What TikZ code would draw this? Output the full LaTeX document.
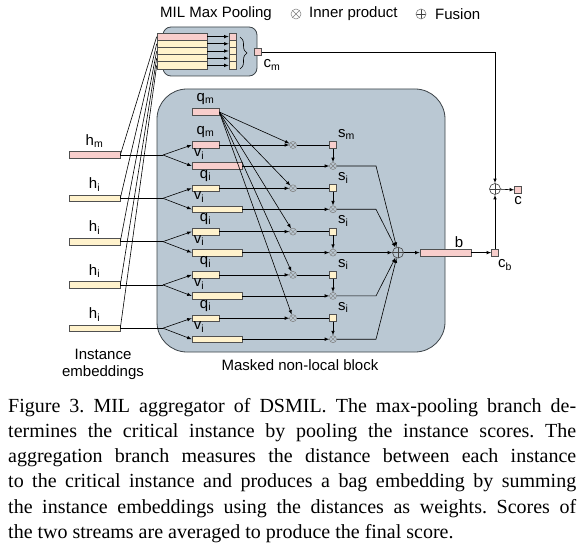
\documentclass[tikz,border=0pt]{standalone}
\usepackage{fontspec}
\setmainfont{Liberation Sans}
\newfontfamily\capfont{Liberation Serif}
\usetikzlibrary{decorations.pathreplacing}

\definecolor{pinkfill}{HTML}{F8CECC}
\definecolor{yelfill}{HTML}{FFF2CC}
\definecolor{blockfill}{HTML}{BAC8D3}
\definecolor{barline}{HTML}{505050}
\definecolor{blockline}{HTML}{3C4348}

\begin{document}
\begin{tikzpicture}[%
      x=1pt, y=-1pt,
      >=latex,
      font=\fontsize{15}{17}\selectfont,
      conn/.style={color=black, line width=0.6pt},
      bar/.style={draw=barline, line width=0.6pt, minimum height=6.5pt, inner sep=0pt},
      sq/.style={bar, minimum width=7pt, minimum height=7pt},
      otimes/.style={circle, draw=gray, fill=blockfill, line width=0.5pt, inner sep=0pt, minimum size=7pt,
        path picture={\draw[gray, line width=0.4pt] (path picture bounding box.north west) -- (path picture bounding box.south east)
          (path picture bounding box.north east) -- (path picture bounding box.south west);}},
      oplus/.style={circle, draw=darkgray, line width=0.6pt, inner sep=0pt, minimum size=11pt,
        path picture={\draw[darkgray, line width=0.5pt] (path picture bounding box.north) -- (path picture bounding box.south)
          (path picture bounding box.west) -- (path picture bounding box.east);}},
      ]
      \useasboundingbox (0,0) rectangle (588,545);

      % legend
      \node (ttl) at (216,14) {MIL Max Pooling};
      \node[otimes, fill=white, minimum size=10pt] (lgi) at (296,14) {};
      \node[anchor=west, inner sep=0pt] (lgit) at (309,14) {Inner product};
      \node[oplus, draw=gray, fill=white, minimum size=10pt] (lgf) at (421,14) {};
      \node[anchor=west, inner sep=0pt] (lgft) at (435,14) {Fusion};

      % blocks
      \draw [fill=blockfill, draw=blockline, line width=0.8pt, rounded corners=8pt] (163,27) rectangle (257,76);
      \draw [fill=blockfill, draw=blockline, line width=0.8pt, rounded corners=30pt] (157,89) rectangle (445,352);

      % max pooling
      \foreach \k/\c in {0/pinkfill,1/yelfill,2/yelfill,3/yelfill,4/yelfill} {
        \node[bar, fill=\c, minimum width=50pt, minimum height=7.2pt] (pb\k) at (182,36.6+7.2*\k) {};
        \node[bar, fill=\c, minimum width=7pt, minimum height=7.2pt] (ps\k) at (232.5,36.6+7.2*\k) {};
        \draw[conn,->] (pb\k) -- (ps\k);
      }
      \draw[conn, decorate, decoration={brace, amplitude=7pt}] (240,37) -- (240,69);
      \node[sq, fill=pinkfill] (cm) at (258,52) {};
      \node at (272,65) {c\textsubscript{m}};

      % non-local block
      \node[bar, fill=pinkfill, minimum width=27pt, label={above:q\textsubscript{m}}] (qtop) at (205.5,112) {};
      \node[oplus] (agg) at (398,252.6) {};
      \foreach \k/\c/\n in {0/pinkfill/m,1/yelfill/i,2/yelfill/i,3/yelfill/i,4/yelfill/i} {
        \pgfmathsetmacro{\qy}{145+43.3*\k}
        \node[bar, fill=\c, minimum width=51pt, label={above:h\textsubscript{\n}}] (h\k) at (94.5,\qy+10) {};
        \coordinate (sp\k) at (163,\qy+10);
        \node[bar, fill=\c, minimum width=27pt, label={above:q\textsubscript{\n}}] (q\k) at (205.5,\qy) {};
        \node[bar, fill=\c, minimum width=50pt] (v\k) at (217,\qy+21) {};
        \node (vl\k) at (199,\qy+9) {v\textsubscript{i}};
        \node[otimes] (ip\k) at (293,\qy) {};
        \node[sq, fill=\c, label={[label distance=-3pt]north east:s\textsubscript{\n}}] (s\k) at (333,\qy) {};
        \node[otimes] (wp\k) at (333,\qy+21) {};
        \coordinate (bend\k) at (376,\qy+21);

        \draw[conn] (h\k.east) -- (pb\k.west);
        \draw[conn] (h\k.east) -- (sp\k);
        \draw[conn,->] (sp\k) -- (q\k.west);
        \draw[conn,->] (sp\k) -- (v\k.west);
        \draw[conn,->] (qtop.east) -- (ip\k);
        \draw[conn,->] (q\k) -- (ip\k);
        \draw[conn] (ip\k) -- (s\k);
        \draw[conn,->] (s\k) -- (wp\k);
        \draw[conn,->] (v\k) -- (wp\k);
        \draw[conn,->] (wp\k) -- (bend\k) -- (agg);
      }

      % output
      \node[bar, fill=pinkfill, minimum width=51pt] (bag) at (445.5,252.6) {};
      \node at (459,242) {b};
      \node[sq, fill=pinkfill] (cb) at (495,252.6) {};
      \node at (505,265) {c\textsubscript{b}};
      \node[oplus, fill=white] (fus) at (495,189) {};
      \node[sq, fill=pinkfill] (cout) at (518,190) {};
      \node at (518,201) {c};
      \draw[conn,->] (agg) -- (bag);
      \draw[conn,->] (bag) -- (cb);
      \draw[conn,->] (cb) -- (fus);
      \draw[conn,->] (cm.east) -| (fus.north);
      \draw[conn,->] (fus) -- (cout);

      \node[align=center] (inst) at (103,364) {Instance\\embeddings};
      \node (nlb) at (300,365) {Masked non-local block};

      \node[anchor=north west, inner sep=0pt, text width=568pt, align=justify,
        font=\capfont\fontsize{20}{25.2}\selectfont\frenchspacing] (cap) at (8,398)
        {Figure 3. MIL aggregator of DSMIL. The max-pooling branch de-\linebreak
        termines the critical instance by pooling the instance scores. The\linebreak
        aggregation branch measures the distance between each instance\linebreak
        to the critical instance and produces a bag embedding by summing\linebreak
        the instance embeddings using the distances as weights. Scores of\linebreak
        the two streams are averaged to produce the final score.};
      \end{tikzpicture}
\end{document}
